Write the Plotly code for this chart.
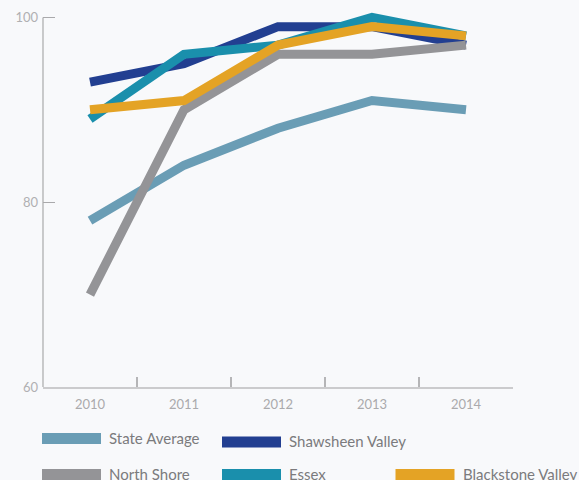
import plotly.graph_objects as go

years = ["2010", "2011", "2012", "2013", "2014"]
state_average = [78, 84, 88, 91, 90]
shawsheen_valley = [93, 95, 99, 99, 97]
north_shore = [70, 90, 96, 96, 97]
essex = [89, 96, 97, 100, 98]
blackstone_valley = [90, 91, 97, 99, 98]

series_names = ["State Average", "Shawsheen Valley", "North Shore", "Essex", "Blackstone Valley"]
series_values = [state_average, shawsheen_valley, north_shore, essex, blackstone_valley]
colors = ["#6a9db5", "#223f91", "#949497", "#1a8fac", "#e4a325"]

W, H = 579, 480
BG = "#f8f9fb"
ML, MR, MT, MB = 43, 66, 10, 93
PW, PH = W - ML - MR, H - MT - MB

# legend layout (pixels): swatch left x, swatch center y
legend_pos = [(42, 438.5), (222, 442), (42, 474.5), (222, 474.5), (395.5, 474.5)]
SW_W, SW_H, TEXT_GAP = 59, 11, 7


def px_x(p):
    return (p - ML) / PW


def px_y(p):
    return (H - MB - p) / PH


fig = go.Figure()
for name, vals, col in zip(series_names, series_values, colors):
    fig.add_trace(go.Scatter(
        x=years, y=vals, name=name, mode="lines",
        line=dict(color=col, width=9), showlegend=False, hoverinfo="skip",
    ))

shapes = [dict(type="line", xref="paper", yref="y", x0=0, x1=0, y0=60, y1=100,
               line=dict(color="#a9a9ab", width=1.2), layer="below")]
annotations = []
for name, col, (lx, ly) in zip(series_names, colors, legend_pos):
    shapes.append(dict(
        type="rect", xref="paper", yref="paper",
        x0=px_x(lx), x1=px_x(lx + SW_W),
        y0=px_y(ly + SW_H / 2), y1=px_y(ly - SW_H / 2),
        line=dict(width=0), fillcolor=col, layer="above",
    ))
    annotations.append(dict(
        text=name, xref="paper", yref="paper",
        x=px_x(lx + SW_W + TEXT_GAP - 1), y=px_y(ly - 1),
        xanchor="left", yanchor="middle", showarrow=False,
        font=dict(family="Lato, Open Sans, sans-serif", size=15, color="#7b7b7d"),
    ))

fig.update_layout(
    width=W, height=H,
    paper_bgcolor=BG, plot_bgcolor=BG,
    margin=dict(l=ML, r=MR, t=MT, b=MB, autoexpand=False),
    showlegend=False,
    hovermode=False,
    font=dict(family="Lato, Open Sans, sans-serif", color="#aaaaaa", size=13),
    xaxis=dict(
        type="category", range=[-0.5, 4.5],
        showgrid=False, zeroline=False,
        showline=True, linecolor="#cbcbcd", linewidth=2,
        ticks="inside", tickson="boundaries", ticklen=10, tickcolor="#b5b5b7", tickwidth=1.5,
        tickfont=dict(size=13, color="#aaaaac"),
        ticklabelstandoff=4,
    ),
    yaxis=dict(
        range=[60, 100.8],
        tickvals=[60, 80, 100],
        showgrid=False, zeroline=False, showline=False,
        ticks="inside", ticklen=12, tickcolor="#a9a9ab", tickwidth=1,
        tickfont=dict(size=13, color="#b0b0b2"),
        ticklabelstandoff=4,
    ),
    shapes=shapes,
    annotations=annotations,
)

fig.write_html(
    "out.html",
    config={"displayModeBar": False, "staticPlot": True},
    post_script="document.body.style.margin='0';document.body.style.background='%s';" % BG,
)
